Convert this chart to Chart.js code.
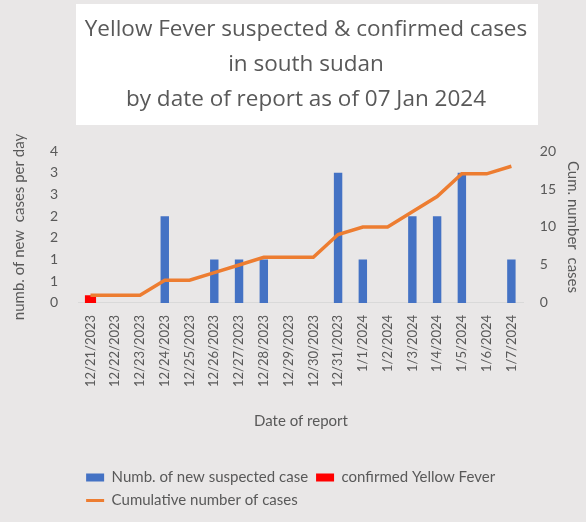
<!DOCTYPE html>
<html>
<head>
<meta charset="utf-8">
<script src="https://cdn.jsdelivr.net/npm/chart.js@4"></script>
<style>
  html, body { margin: 0; padding: 0; background: #e9e7e7; }
  #wrap { width: 586px; height: 522px; }
</style>
</head>
<body>
<div id="wrap"><canvas id="yfChart" width="586" height="522"></canvas></div>
<script>
const dates = ["12/21/2023", "12/22/2023", "12/23/2023", "12/24/2023", "12/25/2023", "12/26/2023",
  "12/27/2023", "12/28/2023", "12/29/2023", "12/30/2023", "12/31/2023", "1/1/2024", "1/2/2024",
  "1/3/2024", "1/4/2024", "1/5/2024", "1/6/2024", "1/7/2024"];
const suspected = [0, 0, 0, 2, 0, 1, 1, 1, 0, 0, 3, 1, 0, 2, 2, 3, 0, 1];
const confirmed = [1, 0, 0, 0, 0, 0, 0, 0, 0, 0, 0, 0, 0, 0, 0, 0, 0, 0];
const cumulative = [1, 1, 1, 3, 3, 4, 5, 6, 6, 6, 9, 10, 10, 12, 14, 17, 17, 18];

const titleLines = ["Yellow Fever suspected & confirmed cases", "in south sudan", "by date of report as of 07 Jan 2024"];

const gray = "#595959";
const fontFam = "Lato, 'Open Sans', sans-serif";

// grey page + white box behind the title
const backdrop = {
  id: "backdrop",
  beforeDraw(chart) {
    const c = chart.ctx;
    c.save();
    c.fillStyle = "#e9e7e7";
    c.fillRect(0, 0, chart.width, chart.height);
    c.fillStyle = "#ffffff";
    c.fillRect(76, 4, 462, 121);
    c.restore();
  }
};

const ctx = document.getElementById("yfChart").getContext("2d");
const chart = new Chart(ctx, {
  type: "bar",
  data: {
    labels: dates,
    datasets: [
      {
        label: "Numb. of new suspected case",
        data: suspected,
        backgroundColor: "#4472c4",
        yAxisID: "y",
        order: 2,
        grouped: false,
        barPercentage: 0.34,
        categoryPercentage: 1
      },
      {
        label: "confirmed Yellow Fever",
        data: confirmed,
        backgroundColor: "#ff0000",
        yAxisID: "y1",
        order: 1,
        grouped: false,
        barPercentage: 0.45,
        categoryPercentage: 1
      },
      {
        type: "line",
        label: "Cumulative number of cases",
        data: cumulative,
        borderColor: "#ed7d31",
        backgroundColor: "#ed7d31",
        borderWidth: 3.5,
        pointRadius: 0,
        tension: 0,
        yAxisID: "y1",
        order: 0
      }
    ]
  },
  options: {
    responsive: false,
    animation: false,
    layout: { autoPadding: false, padding: { left: 10, right: -16, top: 0, bottom: 4 } },
    plugins: {
      tooltip: { enabled: false },
      title: {
        display: true,
        text: titleLines,
        color: gray,
        font: { family: "'Open Sans', sans-serif", size: 22.5, weight: "normal", lineHeight: 1.556 },
        padding: { top: 12, bottom: 34 }
      },
      legend: {
        position: "bottom",
        align: "start",
        fullSize: false,
        labels: {
          color: gray,
          font: { family: fontFam, size: 15 },
          usePointStyle: true,
          pointStyleWidth: 18,
          boxHeight: 8,
          padding: 8,
          generateLabels(ch) {
            return ch.data.datasets.map((ds, i) => ({
              text: ds.label,
              fillStyle: ds.backgroundColor,
              strokeStyle: ds.type === "line" ? ds.borderColor : ds.backgroundColor,
              lineWidth: ds.type === "line" ? 3 : 0,
              pointStyle: ds.type === "line" ? "line" : "rect",
              fontColor: gray,
              datasetIndex: i,
              hidden: false
            }));
          }
        }
      }
    },
    scales: {
      x: {
        grid: { display: false },
        border: { display: true, color: "#d9d9d9" },
        ticks: {
          color: gray,
          font: { family: fontFam, size: 13 },
          minRotation: 90,
          maxRotation: 90,
          padding: 4,
          autoSkip: false
        },
        title: {
          display: true,
          text: "Date of report",
          color: gray,
          font: { family: fontFam, size: 15 },
          padding: { top: 21, bottom: 32 }
        }
      },
      y: {
        position: "left",
        min: 0,
        max: 3.5,
        grid: { display: false },
        border: { display: false },
        ticks: {
          stepSize: 0.5,
          color: gray,
          font: { family: fontFam, size: 14 },
          padding: 12,
          callback: v => Math.round(v)
        },
        title: {
          display: true,
          text: "numb. of new  cases per day",
          color: gray,
          font: { family: fontFam, size: 15 },
          padding: { top: 0, bottom: 10 }
        }
      },
      y1: {
        position: "right",
        min: 0,
        max: 20,
        grid: { display: false },
        border: { display: false },
        ticks: {
          stepSize: 5,
          color: gray,
          font: { family: fontFam, size: 14 },
          padding: 8
        },
        title: {
          display: true,
          text: "Cum. number  cases",
          color: gray,
          font: { family: fontFam, size: 15 },
          padding: { top: 20, bottom: 0 }
        }
      }
    }
  },
  plugins: [backdrop]
});
</script>
</body>
</html>
